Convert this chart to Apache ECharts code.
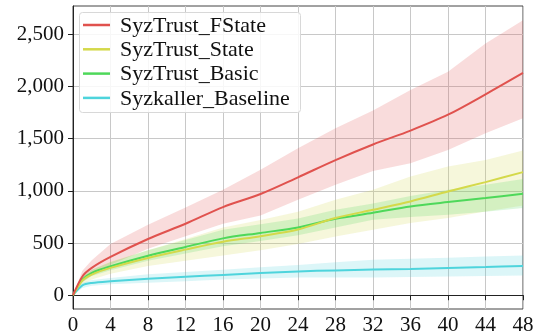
<!DOCTYPE html>
<html>
<head>
<meta charset="utf-8">
<script src="https://cdn.jsdelivr.net/npm/echarts@6/dist/echarts.min.js"></script>
<style>html,body{margin:0;padding:0;background:#fff}#c{width:533px;height:336px}</style>
</head>
<body>
<div id="c"></div>
<script>
var hours = [0, 1, 2, 4, 8, 12, 16, 20, 24, 28, 32, 36, 40, 44, 48];
var seriesNames = ['SyzTrust_FState', 'SyzTrust_State', 'SyzTrust_Basic', 'Syzkaller_Baseline'];

var fstateMean  = [0, 180, 262, 367, 539, 685, 845, 970, 1130, 1295, 1445, 1578, 1730, 1925, 2130];
var fstateLow   = [0, 125, 195, 293, 445, 565, 685, 765, 915, 1058, 1190, 1266, 1393, 1553, 1696];
var fstateHigh  = [0, 235, 335, 490, 676, 840, 1010, 1202, 1409, 1600, 1770, 1966, 2141, 2413, 2636];

var stateMean   = [0, 140, 198, 262, 357, 437, 512, 566, 630, 740, 819, 899, 994, 1084, 1180];
var stateLow    = [0, 105, 150, 205, 280, 330, 380, 430, 490, 564, 628, 692, 740, 803, 860];
var stateHigh   = [0, 175, 245, 320, 430, 540, 650, 720, 800, 915, 1010, 1138, 1233, 1297, 1386];

var basicMean   = [0, 150, 214, 277, 379, 463, 545, 597, 650, 733, 790, 851, 893, 931, 972];
var basicLow    = [0, 125, 185, 240, 330, 400, 470, 520, 575, 650, 724, 750, 771, 800, 835];
var basicHigh   = [0, 175, 245, 315, 430, 530, 628, 680, 735, 820, 880, 950, 1010, 1060, 1113];

var baseMean    = [0, 95, 118, 134, 157, 176, 195, 212, 228, 238, 246, 252, 262, 271, 281];
var baseLow     = [0, 70, 90, 105, 120, 135, 150, 160, 170, 170, 170, 175, 180, 184, 188];
var baseHigh    = [0, 120, 145, 165, 200, 222, 245, 268, 290, 315, 340, 350, 360, 370, 380];

var xTicks = [0, 4, 8, 12, 16, 20, 24, 28, 32, 36, 40, 44, 48];
var yTicks = [0, 500, 1000, 1500, 2000, 2500];

var colors = ['#e0524e', '#d4d94a', '#4ed85a', '#4ed4dc'];
var bandColors = ['rgba(224,82,78,0.2)', 'rgba(212,217,74,0.2)', 'rgba(78,216,90,0.2)', 'rgba(78,212,220,0.2)'];
var means = [fstateMean, stateMean, basicMean, baseMean];
var lows = [fstateLow, stateLow, basicLow, baseLow];
var highs = [fstateHigh, stateHigh, basicHigh, baseHigh];

function pairs(arr) { return hours.map(function (h, i) { return [h, arr[i]]; }); }

var series = [];
for (var k = 0; k < 4; k++) {
  (function (k) {
    series.push({
      name: 'band_' + k, type: 'custom', silent: true, z: 1,
      data: hours.map(function (h, i) { return [h, lows[k][i], highs[k][i]]; }),
      encode: { x: 0, y: [1, 2] },
      renderItem: function (params, api) {
        if (params.dataIndex !== 0) return null;
        var n = hours.length, up = [], dn = [];
        for (var i = 0; i < n; i++) {
          up.push(api.coord([hours[i], highs[k][i]]));
          dn.push(api.coord([hours[i], lows[k][i]]));
        }
        var pts = up.concat(dn.reverse());
        return {
          type: 'polygon',
          shape: { points: pts, smooth: 0 },
          style: { fill: bandColors[k], stroke: null }
        };
      }
    });
  })(k);
}
for (var m = 3; m >= 0; m--) {
  series.push({
    name: seriesNames[m], type: 'line', data: pairs(means[m]), symbol: 'none', smooth: 0.3,
    lineStyle: { color: colors[m], width: 2 }, itemStyle: { color: colors[m] }, z: 3
  });
}

var serifFamily = '"Liberation Serif", "Times New Roman", serif';
var chart = echarts.init(document.getElementById('c'));

function serifize() {
  var zr = chart.getZr();
  var list = zr.storage.getDisplayList(true);
  list.forEach(function (el) {
    if (el.style && typeof el.style.text === 'string' && el.style.text.length) {
      var f = el.style.font || '';
      var mm = /(\d+(?:\.\d+)?)px/.exec(f);
      var size = mm ? mm[1] : (el.style.fontSize || 21);
      el.style.font = 'normal normal ' + size + 'px ' + serifFamily;
      el.dirty();
    }
  });
  zr.refreshImmediately();
}

function render() {
  chart.clear();
  chart.setOption({
    animation: false,
    backgroundColor: '#fff',
    grid: { left: 73, right: 10, top: 6, bottom: 27, show: true, borderColor: '#444', borderWidth: 1 },
    xAxis: {
      type: 'value', min: 0, max: 48, interval: 4,
      axisLine: { show: true, lineStyle: { color: '#222', width: 1 } },
      axisTick: { show: true, length: 5, lineStyle: { color: '#222' } },
      axisLabel: { show: false },
      splitLine: { show: true, lineStyle: { color: '#c8c8c8', width: 1 } }
    },
    yAxis: {
      type: 'value', min: -132, max: 2772,
      axisLine: { show: true, lineStyle: { color: '#222', width: 1 } },
      axisTick: { show: true, length: 5, lineStyle: { color: '#222' }, customValues: yTicks },
      axisLabel: { show: false, customValues: yTicks },
      splitLine: { show: true, lineStyle: { color: '#c8c8c8', width: 1 } }
    },
    series: series
  });

  // Tick labels and legend as text elements positioned from the axes' own scales
  var g = [];
  xTicks.forEach(function (v) {
    var p = chart.convertToPixel({ gridIndex: 0 }, [v, -132]);
    g.push({ type: 'text', x: p[0], y: p[1] + 6, z: 10, silent: true,
      style: { text: String(v), fontFamily: 'Liberation Serif', fontSize: 21, fill: '#111', align: 'center', verticalAlign: 'top' } });
  });
  yTicks.forEach(function (v) {
    var p = chart.convertToPixel({ gridIndex: 0 }, [0, v]);
    g.push({ type: 'text', x: p[0] - 9, y: p[1], z: 10, silent: true,
      style: { text: v.toLocaleString('en-US'), fontFamily: 'Liberation Serif', fontSize: 21, fill: '#111', align: 'right', verticalAlign: 'middle' } });
  });
  var lgLeft = 79, lgTop = 12, lgW = 221, lgH = 100, rowY0 = 25, rowGap = 24.3;
  g.push({ type: 'rect', z: 20, silent: true, shape: { x: lgLeft + 0.5, y: lgTop + 0.5, width: lgW, height: lgH, r: 3 },
    style: { fill: 'rgba(255,255,255,0.85)', stroke: '#d8d8d8', lineWidth: 1 } });
  seriesNames.forEach(function (name, i) {
    var y = rowY0 + i * rowGap;
    g.push({ type: 'line', z: 21, silent: true, shape: { x1: 83, y1: y, x2: 110, y2: y },
      style: { stroke: colors[i], lineWidth: 2.5 } });
    g.push({ type: 'text', z: 21, silent: true, x: 120, y: y + 1,
      style: { text: name, fontFamily: 'Liberation Serif', fontSize: 22, fill: '#111', align: 'left', verticalAlign: 'middle' } });
  });
  chart.setOption({ graphic: g });
  try { serifize(); } catch (e) {}
}

render();
setTimeout(function () { try { serifize(); } catch (e) {} }, 100);
</script>
</body>
</html>
